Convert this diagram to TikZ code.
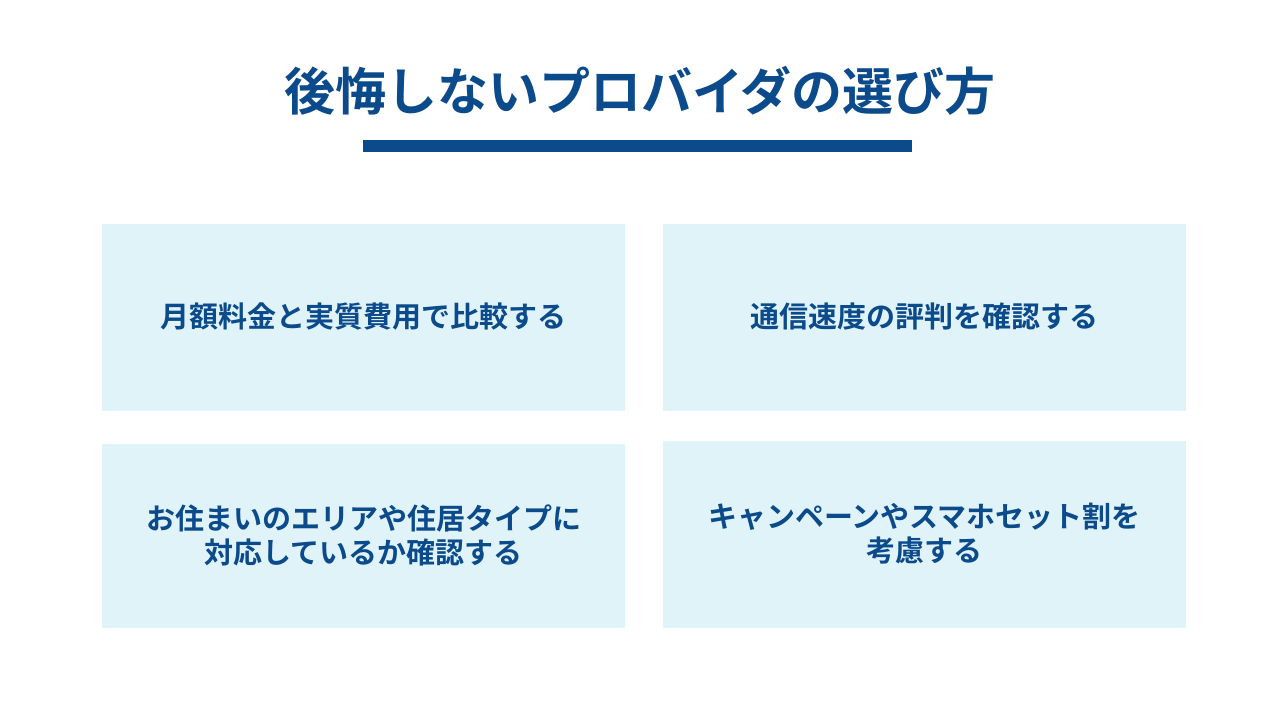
\documentclass[tikz,border=0pt]{standalone}
\usepackage{fontspec}
\newfontfamily\jpfont{Noto Sans CJK JP}[BoldFont={* Bold}]
\definecolor{navy}{HTML}{0B4A8B}
\definecolor{paleblue}{HTML}{E0F3F9}

\begin{document}
\begin{tikzpicture}[x=1pt,y=-1pt,
    box/.style={fill=paleblue,inner sep=0pt,minimum width=523pt,minimum height=187pt},
    label/.style={text=navy,font=\jpfont\bfseries\fontsize{29}{34}\selectfont,align=center}]
      \useasboundingbox[fill=white] (0,0) rectangle (1280,720);
      % title and bar
      \node[text=navy,font=\jpfont\bfseries\fontsize{51}{60}\selectfont] (title) at (640,91) {後悔しないプロバイダの選び方};
      \fill[navy] (363,140) rectangle (912,152);
      % four boxes
      \node[box] (price) at (363.5,317.5) {};
      \node[box] (speed) at (924.5,317.5) {};
      \node[box,minimum height=184pt] (area) at (363.5,536) {};
      \node[box] (campaign) at (924.5,534.5) {};
      \node[label] at ([yshift=1pt]price.center) {月額料金と実質費用で比較する};
      \node[label] at ([yshift=1pt]speed.center) {通信速度の評判を確認する};
      \node[label] at ([yshift=1pt]area.center) {お住まいのエリアや住居タイプに\\対応しているか確認する};
      \node[label] at ([yshift=1pt]campaign.center) {キャンペーンやスマホセット割を\\考慮する};
    \end{tikzpicture}
\end{document}
